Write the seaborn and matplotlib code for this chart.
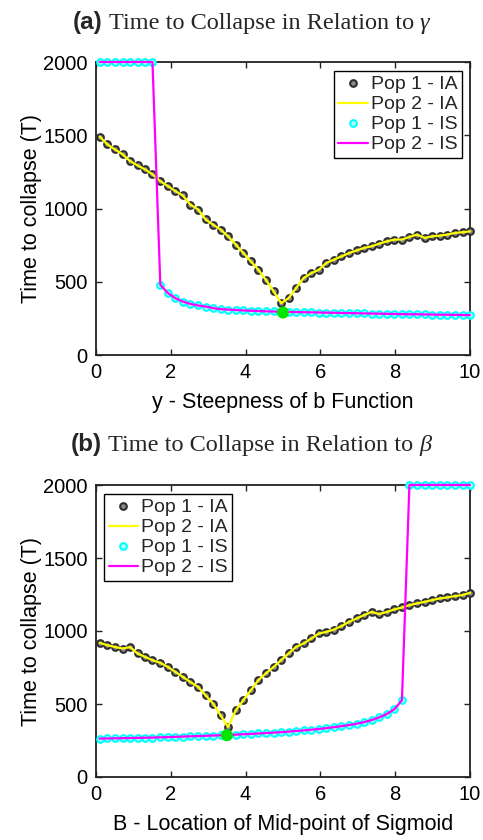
import numpy as np
import pandas as pd
import matplotlib
matplotlib.use("Agg")
import matplotlib.pyplot as plt
import seaborn as sns

# ---------------- data ----------------
# parameter grid (50 values from 0.1 to 10)
x_grid = [0.10, 0.30, 0.50, 0.71, 0.91, 1.11, 1.31, 1.51, 1.72, 1.92,
          2.12, 2.32, 2.52, 2.73, 2.93, 3.13, 3.33, 3.53, 3.74, 3.94,
          4.14, 4.34, 4.54, 4.75, 4.95, 5.15, 5.35, 5.55, 5.76, 5.96,
          6.16, 6.36, 6.56, 6.77, 6.97, 7.17, 7.37, 7.57, 7.78, 7.98,
          8.18, 8.38, 8.58, 8.79, 8.99, 9.19, 9.39, 9.59, 9.80, 10.00]

# panel (a): gamma
ia_gamma = [1491, 1438, 1404, 1370, 1324, 1294, 1267, 1233, 1187, 1153,
            1119, 1089, 1027, 993, 925, 890, 856, 810, 753, 696,
            639, 582, 514, 434, 354, 388, 457, 525, 559, 582,
            628, 651, 673, 696, 714, 731, 742, 760, 776, 788,
            788, 806, 822, 799, 810, 815, 822, 833, 838, 844]
is_gamma = [2000, 2000, 2000, 2000, 2000, 2000, 2000, 2000, 479, 423,
            388, 365, 349, 338, 331, 320, 313, 310, 307, 304,
            302, 300, 298, 297, 295, 294, 293, 292, 291, 290,
            289, 288, 287, 286, 285, 284, 283, 282, 281, 280,
            279, 278, 278, 277, 276, 275, 275, 274, 273, 272]
opt_gamma = (5.0, 290)

# panel (b): beta
ia_beta = [919, 903, 891, 880, 890, 846, 823, 800, 782, 754,
           720, 686, 651, 617, 560, 503, 423, 343, 457, 526,
           594, 663, 709, 754, 800, 846, 891, 915, 949, 983,
           994, 1010, 1033, 1063, 1086, 1109, 1131, 1116, 1131, 1148,
           1161, 1177, 1189, 1200, 1212, 1223, 1230, 1239, 1246, 1262]
is_beta = [263, 264, 265, 266, 267, 268, 269, 270, 272, 273,
           275, 277, 279, 280, 282, 284, 286, 288, 290, 293,
           295, 298, 301, 304, 307, 311, 315, 319, 324, 329,
           335, 341, 348, 356, 365, 376, 390, 408, 432, 465,
           526, 2000, 2000, 2000, 2000, 2000, 2000, 2000, 2000, 2000]
opt_beta = (3.5, 286)

series_labels = ["Pop 1 - IA", "Pop 2 - IA", "Pop 1 - IS", "Pop 2 - IS"]
x_ticks = [0, 2, 4, 6, 8, 10]
y_ticks = [0, 500, 1000, 1500, 2000]
y_label = "Time to collapse (T)"
x_label_a = "y - Steepness of b Function"
x_label_b = "B - Location of Mid-point of Sigmoid"
title_main = "Time to Collapse in Relation to"

# ---------------- style ----------------
sns.set_style("ticks")
SANS = ["Liberation Sans", "DejaVu Sans"]
SERIF = ["Liberation Serif", "DejaVu Serif"]
plt.rcParams["font.family"] = SANS

W, H = 483, 840
fig = plt.figure(figsize=(W / 100, H / 100), dpi=100)
fig.patch.set_facecolor("white")
axA = fig.add_axes([96 / W, 1 - 355 / H, 374 / W, 293 / H])
axB = fig.add_axes([96 / W, 1 - 777 / H, 374 / W, 292 / H])

DARK = "#2e2e2e"


def draw(ax, ia, is_, opt, xlabel, legloc, anchor):
    df = pd.DataFrame({"x": x_grid, "ia": ia, "is": is_})
    sns.lineplot(data=df, x="x", y="ia", ax=ax, linestyle="none", marker="o",
                 markersize=4.8, markerfacecolor="#8a8a8a", markeredgecolor=DARK,
                 markeredgewidth=1.5, color=DARK, label=series_labels[0],
                 clip_on=False, zorder=3)
    sns.lineplot(data=df, x="x", y="ia", ax=ax, color="#ffff00", linewidth=1.6,
                 label=series_labels[1], clip_on=False, zorder=4)
    sns.lineplot(data=df, x="x", y="is", ax=ax, linestyle="none", marker="o",
                 markersize=4.8, markerfacecolor="#b0ffff", markeredgecolor="#00ffff",
                 markeredgewidth=1.5, color="#00ffff", label=series_labels[2],
                 clip_on=False, zorder=3)
    sns.lineplot(data=df, x="x", y="is", ax=ax, color="#ff00ff", linewidth=1.6,
                 label=series_labels[3], clip_on=False, zorder=4)
    sns.scatterplot(x=[opt[0]], y=[opt[1]], ax=ax, color="#00e600", s=75,
                    edgecolor="none", zorder=6, legend=False, clip_on=False)

    ax.set_xlim(0, 10)
    ax.set_ylim(0, 2000)
    ax.set_xticks(x_ticks)
    ax.set_yticks(y_ticks)
    ax.set_xticklabels([str(v) for v in x_ticks])
    ax.set_yticklabels([str(v) for v in y_ticks])
    ax.tick_params(direction="in", length=4, width=1.0, top=True, right=True,
                   labelsize=14.5, pad=6, color="#222222", labelcolor="black")
    for s in ax.spines.values():
        s.set_visible(True)
        s.set_linewidth(1.3)
        s.set_color("#222222")
    ax.set_xlabel(xlabel, fontsize=15.5, labelpad=7, color="black")
    ax.set_ylabel(y_label, fontsize=15.5, labelpad=1, color="black")
    ax.grid(False)
    leg = ax.legend(loc=legloc, bbox_to_anchor=anchor, frameon=True,
                    fancybox=False, edgecolor="black", framealpha=1,
                    fontsize=14, handlelength=1.5, handletextpad=0.15,
                    labelspacing=0.12, borderpad=0.25, borderaxespad=0)
    leg.get_frame().set_linewidth(1.0)


draw(axA, ia_gamma, is_gamma, opt_gamma, x_label_a, "upper right",
     (1 - 8 / 374, 1 - 9 / 293))
draw(axB, ia_beta, is_beta, opt_beta, x_label_b, "upper left",
     (8 / 374, 1 - 9 / 292))

# ---------------- titles ----------------
TS = 17.5
renderer = fig.canvas.get_renderer()


def panel_title(letter, greek, base_px, cx_px):
    y = 1 - base_px / H
    t1 = fig.text(0, y, f"({letter})", family=SANS, weight="bold", fontsize=TS,
                  va="baseline", ha="left")
    t2 = fig.text(0, y, title_main, family=SERIF, fontsize=TS,
                  va="baseline", ha="left")
    t3 = fig.text(0, y, greek, family=SERIF, style="italic", fontsize=TS,
                  va="baseline", ha="left")
    w1 = t1.get_window_extent(renderer).width
    w2 = t2.get_window_extent(renderer).width
    w3 = t3.get_window_extent(renderer).width
    sp = 0.25 * TS * 100 / 72
    total = w1 + sp + w2 + sp + w3
    x0 = cx_px - total / 2
    t1.set_x(x0 / W)
    t2.set_x((x0 + w1 + sp) / W)
    t3.set_x((x0 + w1 + sp + w2 + sp) / W)


panel_title("a", "γ", 29, 251)
panel_title("b", "β", 451, 251)

fig.savefig("out.png", dpi=100, facecolor="white")
